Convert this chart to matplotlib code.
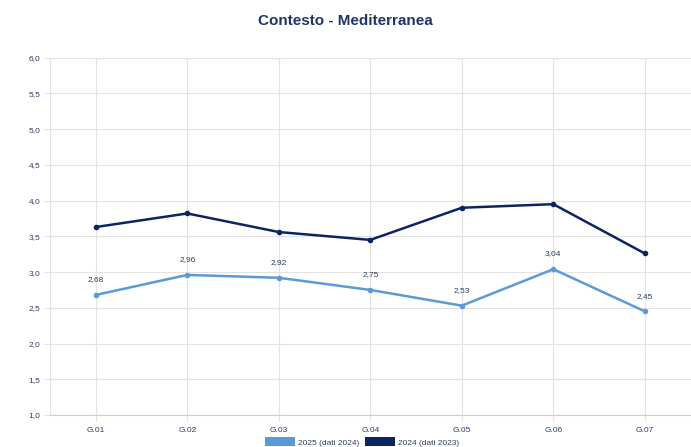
import matplotlib.pyplot as plt
import numpy as np
from matplotlib.patches import Patch

plt.rcParams['font.family'] = ['Liberation Sans', 'DejaVu Sans']

# Data
categories = ['G.01', 'G.02', 'G.03', 'G.04', 'G.05', 'G.06', 'G.07']
series_2025 = [2.68, 2.96, 2.92, 2.75, 2.53, 3.04, 2.45]
series_2024 = [3.63, 3.82, 3.56, 3.45, 3.90, 3.95, 3.26]
labels_2025 = ['2,68', '2,96', '2,92', '2,75', '2,53', '3,04', '2,45']
yticks = [1.0, 1.5, 2.0, 2.5, 3.0, 3.5, 4.0, 4.5, 5.0, 5.5, 6.0]

light = '#5b9bd5'
dark = '#0c2461'
text_col = '#2e3d63'
grid_col = '#e3e3e3'

fig = plt.figure(figsize=(6.91, 4.47), dpi=100)
ax = fig.add_axes([0.0724, 0.0716, 0.927, 0.7994])

x = np.arange(len(categories))
ax.plot(x, series_2024, color=dark, lw=1.8, marker='o', ms=3, zorder=3)
ax.plot(x, series_2025, color=light, lw=1.8, marker='o', ms=3, zorder=3)

for xi, yi, lab in zip(x, series_2025, labels_2025):
    ax.annotate(lab, (xi, yi), xytext=(0, 8.5), textcoords='offset points',
                ha='center', va='bottom', fontsize=6, color=text_col)

ax.set_xlim(-0.5, len(categories) - 0.5)
ax.set_ylim(1.0, 6.0)
ax.set_xticks(x)
ax.set_xticklabels(categories)
ax.set_yticks(yticks)
ax.set_yticklabels([f'{v:.1f}'.replace('.', ',') for v in yticks])
ax.tick_params(axis='both', labelsize=6, colors=text_col, length=4,
               color=grid_col, pad=3)
ax.tick_params(axis='x', pad=5)
ax.grid(True, color=grid_col, lw=0.8)
ax.set_axisbelow(True)
for side in ['top', 'right']:
    ax.spines[side].set_visible(False)
ax.spines['left'].set_color(grid_col)
ax.spines['bottom'].set_color('#cccccc')

fig.text(0.5, 0.952, 'Contesto - Mediterranea', ha='center', va='center',
         fontsize=11, fontweight='bold', color='#1f3469')

handles = [Patch(facecolor=light, edgecolor='none', label='2025 (dati 2024)'),
           Patch(facecolor=dark, edgecolor='none', label='2024 (dati 2023)')]
fig.legend(handles=handles, loc='center', bbox_to_anchor=(0.524, 0.011),
           ncol=2, frameon=False, fontsize=6, handlelength=3.6,
           handleheight=1.3, columnspacing=0.8, handletextpad=0.3,
           labelcolor=text_col, borderpad=0)

fig.savefig('out.png', dpi=100)
